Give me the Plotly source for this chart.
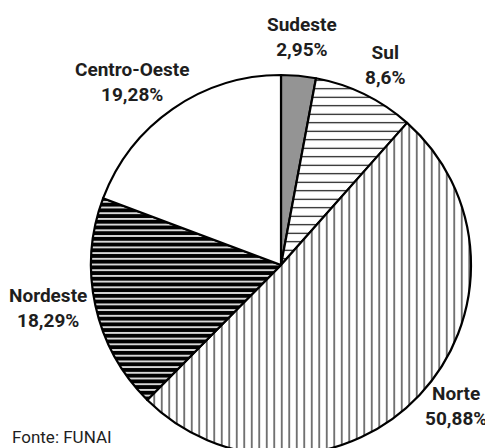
import plotly.graph_objects as go

regions = ["Sudeste", "Sul", "Norte", "Nordeste", "Centro-Oeste"]
shares = [2.95, 8.6, 50.88, 18.29, 19.28]
share_labels = ["2,95%", "8,6%", "50,88%", "18,29%", "19,28%"]
source_note = "Fonte: FUNAI"

OFF = 8                 # page body margin that shifts the figure
W, H = 493 - OFF, 452   # figure size; bottom of the pie runs past the window like the reference
cx, cy, r = 281 - OFF, 265 - OFF, 190  # pie centre / radius in figure px (from top-left)

fills = ["#949494", "white", "white", "white", "white"]
shapes = ["", "-", "|", "-", ""]
fgs = ["#949494", "black", "black", "black", "white"]
sizes = [8, 8.5, 7.5, 5.7, 8]
solid = [0.1, 0.13, 0.14, 0.72, 0.1]

fig = go.Figure(go.Pie(
    labels=regions, values=shares, sort=False, direction="clockwise", rotation=0,
    textinfo="none", hoverinfo="label+value", showlegend=False,
    marker=dict(
        colors=fills,
        line=dict(color="black", width=2.2),
        pattern=dict(shape=shapes, fgcolor=fgs, bgcolor=fills, size=sizes,
                     solidity=solid, fillmode="replace"),
    ),
    domain=dict(x=[(cx - r) / W, (cx + r) / W], y=[(H - cy - r) / H, (H - cy + r) / H]),
))

# label anchor positions (reference px, centre of two-line block)
label_pos = {
    "Sudeste": (302, 37),
    "Sul": (385, 65),
    "Centro-Oeste": (132, 82),
    "Nordeste": (48, 308),
    "Norte": (456, 406),
}
font_family = "Roboto, Liberation Sans, sans-serif"
for name, lab in zip(regions, share_labels):
    x, y = label_pos[name]
    fig.add_annotation(
        x=(x - OFF) / W, y=1 - (y - OFF) / H, xref="paper", yref="paper",
        text=f"<b>{name}<br>{lab}</b>", showarrow=False,
        xanchor="center", yanchor="middle", align="center",
        font=dict(family=font_family, size=19, color="#1e1e1e"),
    )

fig.add_annotation(
    x=(10 - OFF) / W, y=1 - (437 - OFF) / H, xref="paper", yref="paper",
    text=source_note, showarrow=False, xanchor="left", yanchor="middle",
    font=dict(family=font_family, size=17, color="#1e1e1e"),
)

fig.update_layout(
    width=W, height=H, margin=dict(l=0, r=0, t=0, b=0),
    paper_bgcolor="white", plot_bgcolor="white",
)
fig.write_html("out.html")
